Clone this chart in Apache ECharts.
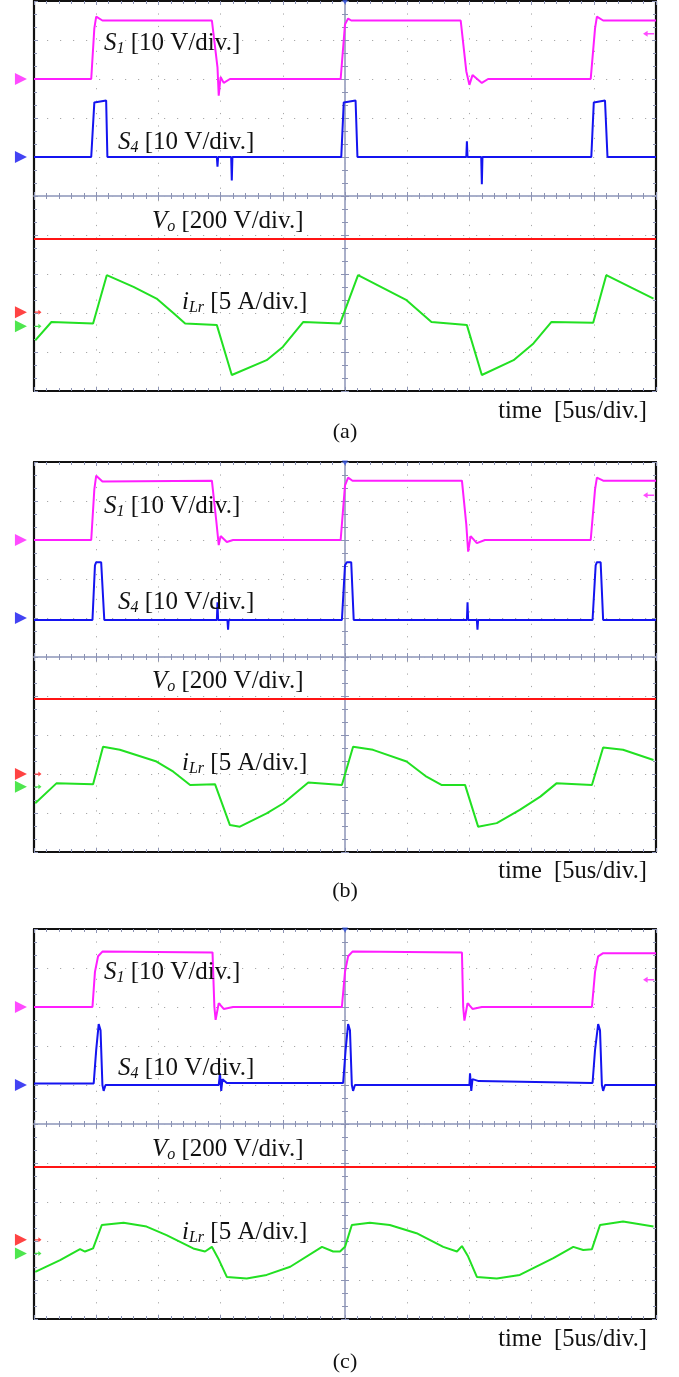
<!DOCTYPE html>
<html><head><meta charset="utf-8">
<script src="https://cdn.jsdelivr.net/npm/echarts@6/dist/echarts.min.js"></script>
<style>html,body{margin:0;padding:0;background:#fff}#c{width:679px;height:1377px}</style>
</head><body><div id="c"></div>
<script>
// time in microseconds (trigger at 0, 5 us/div), values in divisions (screen centre = 0)
// ---------- panel (a) ----------
const a_s1 = [[-25,3.0],[-20.4,3.0],[-20.15,4.3],[-20,4.6],[-19.5,4.5],[-10.7,4.5],[-10.25,3.3],[-10.15,2.57],[-10,3.05],[-9.75,2.9],[-9.25,3.0],[-0.35,3.0],[0,4.4],[0.25,4.55],[0.5,4.5],[9.3,4.5],[9.75,3.2],[10,2.85],[10.25,3.1],[11,2.9],[11.5,3.0],[19.75,3.0],[20.1,4.3],[20.25,4.6],[20.75,4.5],[25,4.5]];
const a_s4 = [[-25,1.0],[-20.4,1.0],[-20.15,2.4],[-20,2.45],[-19.2,2.45],[-19.1,1.0],[-10.3,1.0],[-10.25,0.75],[-10.2,1.0],[-9.15,1.0],[-9.1,0.4],[-9.05,1.0],[-0.3,1.0],[-0.1,2.4],[0,2.45],[0.85,2.45],[1.0,1.0],[9.75,1.0],[9.8,1.4],[9.85,1.0],[10.95,1.0],[11,0.3],[11.05,1.0],[19.8,1.0],[20,2.4],[20.15,2.45],[20.9,2.45],[21.1,1.0],[25,1.0]];
const a_vo = [[-25,-1.1],[25,-1.1]];
const a_il = [[-24.9,-3.70],[-23.6,-3.23],[-20.25,-3.27],[-19.15,-2.03],[-17,-2.33],[-15.15,-2.63],[-13.8,-3.0],[-12.85,-3.27],[-10.3,-3.31],[-9.1,-4.59],[-6.3,-4.21],[-5,-3.87],[-3.35,-3.23],[-0.4,-3.27],[1.05,-2.03],[3,-2.35],[4.95,-2.67],[6.95,-3.23],[9.8,-3.31],[11,-4.59],[13.55,-4.21],[15.15,-3.78],[16.6,-3.23],[19.95,-3.25],[21,-2.03],[24.8,-2.63]];
const a_levels = [3.0, 1.0, -2.98, -3.34, 4.16]; // S1, S4, Vo, iLr reference markers, S1 right arrow
// ---------- panel (b) ----------
const b_s1 = [[-25,3.0],[-20.4,3.0],[-20.15,4.3],[-20,4.65],[-19.5,4.5],[-10.7,4.52],[-10.35,3.5],[-10.15,2.87],[-10,3.1],[-9.5,2.95],[-9,3.0],[-0.35,3.0],[0,4.4],[0.25,4.6],[0.6,4.52],[9.4,4.52],[9.75,3.4],[9.9,2.7],[10.1,3.1],[10.6,2.92],[11.25,3.0],[19.75,3.0],[20.1,4.3],[20.25,4.6],[20.75,4.52],[25,4.52]];
const b_s4 = [[-25,0.95],[-20.3,0.95],[-20.1,2.35],[-20,2.43],[-19.6,2.43],[-19.35,0.95],[-10.3,0.95],[-10.25,1.4],[-10.2,0.95],[-9.45,0.95],[-9.4,0.7],[-9.35,0.95],[-0.25,0.95],[0,2.35],[0.15,2.43],[0.5,2.43],[0.7,0.95],[9.8,0.95],[9.85,1.4],[9.9,0.95],[10.6,0.95],[10.65,0.7],[10.7,0.95],[19.9,0.95],[20.15,2.35],[20.25,2.43],[20.55,2.43],[20.75,0.95],[25,0.95]];
const b_vo = [[-25,-1.08],[25,-1.08]];
const b_il = [[-24.9,-3.75],[-23.2,-3.24],[-20.25,-3.26],[-19.45,-2.30],[-18.1,-2.38],[-15.15,-2.68],[-13.8,-2.94],[-12.45,-3.28],[-10.45,-3.26],[-9.25,-4.31],[-8.45,-4.35],[-6.3,-4.01],[-4.95,-3.75],[-2.95,-3.22],[-0.25,-3.28],[0.65,-2.30],[2.25,-2.38],[4.95,-2.68],[6.55,-3.07],[7.75,-3.28],[9.65,-3.28],[10.7,-4.35],[12.2,-4.26],[14.05,-3.92],[15.7,-3.58],[17,-3.24],[19.85,-3.28],[20.75,-2.32],[22.35,-2.38],[24.8,-2.64]];
const b_levels = [3.0, 1.0, -3.0, -3.33, 4.15];
// ---------- panel (c) ----------
const c_s1 = [[-25,3.0],[-20.3,3.0],[-20.1,3.9],[-19.85,4.3],[-19.5,4.42],[-10.65,4.4],[-10.5,3.0],[-10.4,2.67],[-10.15,3.1],[-9.75,2.95],[-9,3.0],[-0.25,3.0],[0,3.9],[0.25,4.3],[0.6,4.42],[9.4,4.4],[9.5,3.0],[9.6,2.65],[9.85,3.1],[10.25,2.95],[11,3.0],[19.85,3.0],[20.1,3.9],[20.35,4.3],[20.75,4.38],[25,4.38]];
const c_s4 = [[-25,1.04],[-20.2,1.04],[-20,1.9],[-19.8,2.56],[-19.65,2.4],[-19.5,1.0],[-19.4,0.85],[-19.25,1.0],[-10.15,1.0],[-10.05,1.3],[-9.95,0.85],[-9.85,1.15],[-9.5,1.05],[-0.15,1.05],[0.05,1.9],[0.25,2.56],[0.4,2.4],[0.55,1.0],[0.65,0.85],[0.8,1.0],[10,1.0],[10.05,1.3],[10.15,0.85],[10.25,1.15],[10.75,1.1],[19.9,1.05],[20.1,1.9],[20.35,2.56],[20.5,2.4],[20.65,1.0],[20.75,0.85],[20.9,1.0],[25,1.0]];
const c_vo = [[-25,-1.1],[25,-1.1]];
const c_il = [[-24.9,-3.79],[-22.9,-3.49],[-21.3,-3.21],[-20.9,-3.27],[-20.25,-3.19],[-19.55,-2.59],[-17.8,-2.53],[-15.95,-2.63],[-14.35,-2.85],[-12.2,-3.19],[-11.25,-3.27],[-10.7,-3.15],[-10.2,-3.44],[-9.5,-3.92],[-7.9,-3.96],[-6.3,-3.87],[-4.4,-3.66],[-1.85,-3.15],[-0.95,-3.27],[-0.4,-3.27],[0,-3.15],[0.55,-2.59],[2,-2.53],[3.6,-2.59],[5.75,-2.8],[7.9,-3.15],[9,-3.27],[9.4,-3.13],[9.9,-3.4],[10.6,-3.92],[12.2,-3.96],[14.05,-3.87],[16.75,-3.44],[18.35,-3.15],[19.15,-3.23],[19.85,-3.21],[20.5,-2.59],[22.35,-2.5],[24.8,-2.63]];
const c_levels = [3.0, 1.0, -2.97, -3.32, 3.7];

const captions = ['(a)','(b)','(c)'];
const timeLabel = 'time  [5us/div.]';
const chLabels = [
  ['S','1',' [10 V/div.]'],
  ['S','4',' [10 V/div.]'],
  ['V','o',' [200 V/div.]'],
  ['i','Lr',' [5 A/div.]']
];

const C_S1 = '#ff1eff', C_S4 = '#1414f0', C_VO = '#ff1414', C_IL = '#22e022';
const panels = [
  {top:1,   s1:a_s1, s4:a_s4, vo:a_vo, il:a_il, lv:a_levels, lab:[43,142,221,302], t:412, cap:432},
  {top:462, s1:b_s1, s4:b_s4, vo:b_vo, il:b_il, lv:b_levels, lab:[506,602,681,763], t:872, cap:891},
  {top:929, s1:c_s1, s4:c_s4, vo:c_vo, il:c_il, lv:c_levels, lab:[972,1068,1149,1232], t:1340, cap:1362}
];
const labX = [104,118,152,182];
const FONT = '"Liberation Serif","Times New Roman",serif';
const TICK = '#8c93b3';

const grid=[], xAxis=[], yAxis=[], series=[], graphic=[];
panels.forEach((p,g)=>{
  grid.push({left:34, width:622, top:p.top, height:390, show:false});
  const xb = {gridIndex:g, type:'value', min:-25, max:25, interval:5, axisLabel:{show:false}};
  const yb = {gridIndex:g, type:'value', min:-5, max:5, interval:1, axisLabel:{show:false}};
  const xi0 = xAxis.length, yi0 = yAxis.length;
  xAxis.push(Object.assign({}, xb, {position:'bottom',
    axisLine:{onZero:false, lineStyle:{color:'#111', width:2.2}},
    axisTick:{inside:true, length:4, lineStyle:{color:TICK}},
    minorTick:{show:true, splitNumber:5, length:3, lineStyle:{color:TICK}},
    splitLine:{show:true, lineStyle:{color:'#a8a8a8', width:1, type:[1.2,11.24]}}}));
  xAxis.push(Object.assign({}, xb, {position:'top',
    axisLine:{onZero:false, lineStyle:{color:'#111', width:2.2}},
    axisTick:{inside:true, length:4, lineStyle:{color:TICK}},
    minorTick:{show:true, splitNumber:5, length:3, lineStyle:{color:TICK}},
    splitLine:{show:false}}));
  [true,false].forEach(ins=>xAxis.push(Object.assign({}, xb, {position:'bottom',
    axisLine:{onZero:true, lineStyle:{color:'#a3aac6', width:1.5}},
    axisTick:{inside:ins, length:4, lineStyle:{color:TICK}},
    minorTick:{show:true, splitNumber:5, length:3, lineStyle:{color:TICK}},
    splitLine:{show:false}})));
  yAxis.push(Object.assign({}, yb, {position:'left',
    axisLine:{onZero:false, lineStyle:{color:'#111', width:2.2}},
    axisTick:{inside:true, length:4, lineStyle:{color:TICK}},
    minorTick:{show:true, splitNumber:3, length:3, lineStyle:{color:TICK}},
    splitLine:{show:true, lineStyle:{color:'#a8a8a8', width:1, type:[1.2,11.8]}}}));
  yAxis.push(Object.assign({}, yb, {position:'right',
    axisLine:{onZero:false, lineStyle:{color:'#111', width:2.2}},
    axisTick:{inside:true, length:4, lineStyle:{color:TICK}},
    minorTick:{show:true, splitNumber:3, length:3, lineStyle:{color:TICK}},
    splitLine:{show:false}}));
  [true,false].forEach(ins=>yAxis.push(Object.assign({}, yb, {position:'left',
    axisLine:{onZero:true, lineStyle:{color:'#a3aac6', width:1.5}},
    axisTick:{inside:ins, length:4, lineStyle:{color:TICK}},
    minorTick:{show:true, splitNumber:3, length:3, lineStyle:{color:TICK}},
    splitLine:{show:false}})));

  const ln = (data,color)=>({type:'line', xAxisIndex:xi0, yAxisIndex:yi0, data, showSymbol:false, symbol:'none',
    lineStyle:{color, width:2}, itemStyle:{color}, z:3, silent:true});
  series.push(ln(p.vo,C_VO), ln(p.il,C_IL), ln(p.s4,C_S4), ln(p.s1,C_S1));

  const lv = p.lv;
  const tri = (y,color)=>({value:[-26.05,y], itemStyle:{color}});
  series.push({type:'scatter', xAxisIndex:xi0, yAxisIndex:yi0, clip:false, silent:true, z:5,
    symbol:'triangle', symbolSize:[12,12], symbolRotate:-90,
    data:[tri(lv[0],C_S1), tri(lv[1],C_S4), tri(lv[2],C_VO), tri(lv[3],C_IL)]});
  const arr = 'path://M0,3 L5,3 L5,0 L9,4 L5,8 L5,5 L0,5 Z';
  series.push({type:'scatter', xAxisIndex:xi0, yAxisIndex:yi0, clip:false, silent:true, z:5,
    symbol:arr, symbolSize:[7,5],
    data:[{value:[-24.68,lv[2]], itemStyle:{color:C_VO}}, {value:[-24.68,lv[3]], itemStyle:{color:C_IL}}]});
  series.push({type:'scatter', xAxisIndex:xi0, yAxisIndex:yi0, clip:false, silent:true, z:5,
    symbol:'path://M0,4 L5,0 L5,3 L12,3 L12,5 L5,5 L5,8 Z', symbolSize:[11,6],
    data:[{value:[24.4,lv[4]], itemStyle:{color:C_S1}}]});
  series.push({type:'scatter', xAxisIndex:xi0, yAxisIndex:yi0, clip:false, silent:true, z:6,
    symbol:'triangle', symbolSize:[6,5], symbolRotate:180, symbolOffset:[0,1],
    data:[{value:[0,5], itemStyle:{color:'#3050e0'}}]});

  chLabels.forEach((l,i)=>{
    graphic.push({type:'text', x:labX[i], y:p.lab[i], z:10, silent:true, style:{
      text:'{i|'+l[0]+'}{s|'+l[1]+'}{n|'+l[2]+'}', align:'left', verticalAlign:'middle',
      rich:{
        i:{fontFamily:FONT, fontSize:25, fontStyle:'italic', fill:'#111', lineHeight:27},
        s:{fontFamily:FONT, fontSize:16, fontStyle:'italic', fill:'#111', lineHeight:16, verticalAlign:'bottom'},
        n:{fontFamily:FONT, fontSize:25, fill:'#111', lineHeight:27}
      }}});
  });
  graphic.push({type:'text', x:647, y:p.t, silent:true, style:{text:timeLabel, align:'right', verticalAlign:'middle',
    fontFamily:FONT, fontSize:24.5, fill:'#111'}});
  graphic.push({type:'text', x:345, y:p.cap, silent:true, style:{text:captions[g], align:'center', verticalAlign:'middle',
    fontFamily:FONT, fontSize:22, fill:'#111'}});
});

const chart = echarts.init(document.getElementById('c'));
chart.setOption({animation:false, backgroundColor:'#fff', grid, xAxis, yAxis, series, graphic});
</script></body></html>
